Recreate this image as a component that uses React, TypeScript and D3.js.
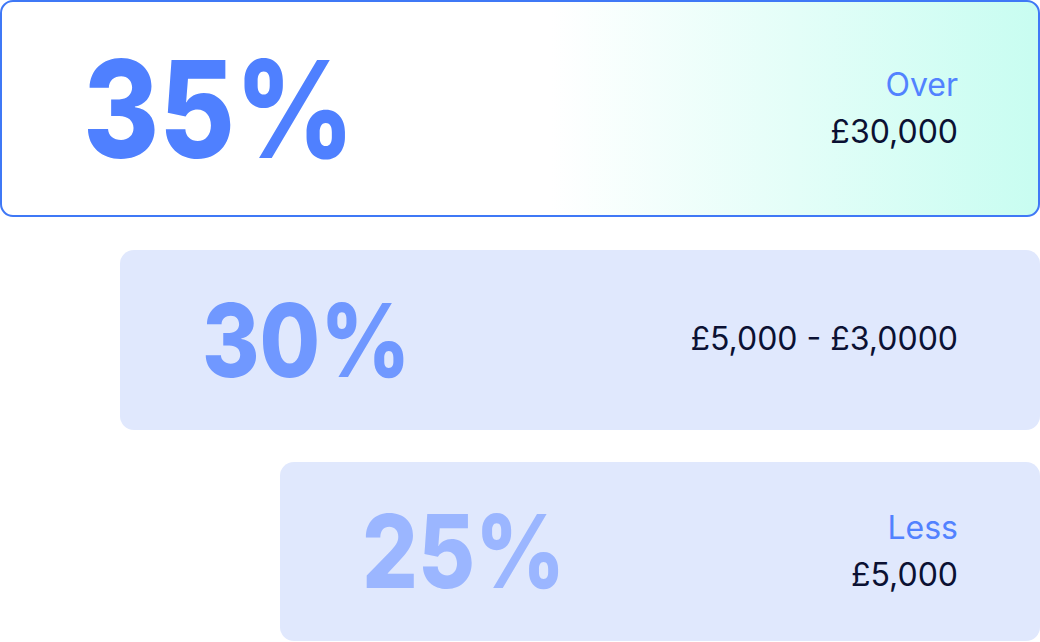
import React from "react";
import * as d3 from "d3";

const shares = [35, 30, 25];
const labels = ["Over", "", "Less"];
const amounts = ["£30,000", "£5,000 - £3,0000", "£5,000"];
const shareColors = ["#4f80ff", "#7098ff", "#9bb6ff"];

const W = 1040;
const H = 642;

export default function App() {
  const data = shares.map((s, i) => ({ s, label: labels[i], amount: amounts[i], color: shareColors[i], i }));

  const xLeft = d3.scaleLinear().domain([25, 30, 35]).range([280, 120, 1]);
  const tops = [1, 250, 462];
  const bottoms = [216, 430, 641];
  const fontSize = d3.scaleLinear().domain([25, 30, 35]).range([102, 102, 135]);

  return (
    <svg
      width={W}
      height={H}
      style={{ position: "fixed", left: 0, top: 0, fontFamily: "Inter, 'Noto Sans', sans-serif" }}
    >
      <defs>
        <linearGradient id="mint" x1="0" x2="1" y1="0" y2="0">
          <stop offset="0" stopColor="#ffffff" />
          <stop offset="0.53" stopColor="#ffffff" />
          <stop offset="1" stopColor="#c8fdf1" />
        </linearGradient>
      </defs>
      <rect width={W} height={H} fill="#ffffff" />
      {data.map((d) => {
        const x0 = xLeft(d.s);
        const y0 = tops[d.i];
        const y1 = bottoms[d.i];
        const first = d.i === 0;
        const x1 = first ? W - 1 : W;
        const cy = (y0 + y1) / 2;
        const by = first ? 158 : d.i === 1 ? 377 : 588;
        return (
          <g key={d.i}>
            <rect
              x={x0}
              y={y0}
              width={x1 - x0}
              height={y1 - y0}
              rx={first ? 12 : 14}
              fill={first ? "url(#mint)" : "#e0e8fd"}
              stroke={first ? "#3f78f6" : "none"}
              strokeWidth={first ? 2 : 0}
            />
            <text
              transform={`translate(${x0 + 82},${by}) scale(0.86,1)`}
              fontSize={fontSize(d.s)}
              fontWeight={800}
              fill={d.color}
            >
              {d.s}%
            </text>
            {d.label ? (
              <>
                <text x={958} y={cy - 12.5} textAnchor="end" fontSize={32} fill="#5282ff">
                  {d.label}
                </text>
                <text x={958} y={cy + 34} textAnchor="end" fontSize={32} fill="#0b1133">
                  {d.amount}
                </text>
              </>
            ) : (
              <text x={958} y={cy + 10} textAnchor="end" fontSize={32} fill="#0b1133">
                {d.amount}
              </text>
            )}
          </g>
        );
      })}
    </svg>
  );
}
